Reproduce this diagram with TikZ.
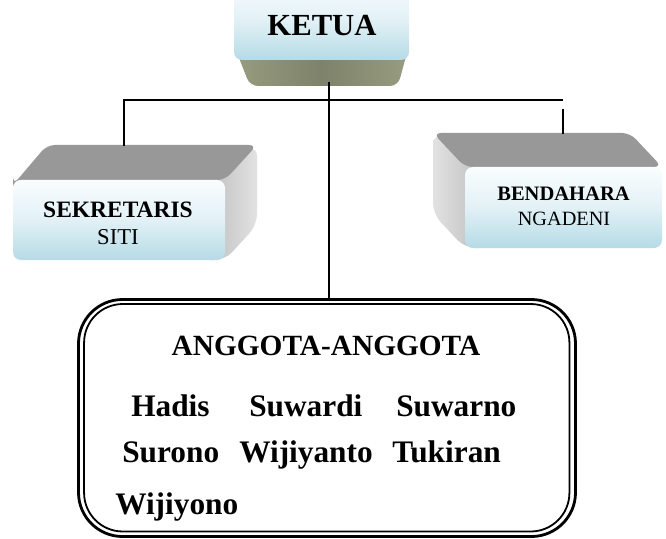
\documentclass[tikz,border=0pt]{standalone}
\usepackage{fontspec}
\setmainfont{Liberation Serif}
\definecolor{faceTop}{RGB}{250,253,254}
\definecolor{faceMid}{RGB}{226,241,246}
\definecolor{faceBot}{RGB}{181,219,230}
\definecolor{topGray}{RGB}{152,152,152}
\definecolor{sideLight}{RGB}{226,226,226}
\definecolor{sideDark}{RGB}{185,185,185}
\definecolor{bevelOlive}{RGB}{126,130,106}
\definecolor{bevelLight}{RGB}{152,156,128}
\begin{document}
\begin{tikzpicture}[x=0.75pt,y=-0.75pt,
  frontface/.style={top color=faceTop, bottom color=faceBot, middle color=faceMid, rounded corners=6pt},
  topface/.style={fill=topGray, rounded corners=6pt},
  conn/.style={draw=black, line width=1.2pt},
  boldlbl/.style={font=\bfseries\fontsize{#1}{#1}\selectfont, anchor=base, inner sep=0pt},
  plainlbl/.style={font=\fontsize{#1}{#1}\selectfont, anchor=base, inner sep=0pt},
  member/.style={font=\bfseries\fontsize{23.5}{24}\selectfont, anchor=base west, inner sep=0pt}]
\useasboundingbox (0,0) rectangle (666,538);
\begin{scope}
\clip (0,0) rectangle (666,538);
% ---- KETUA block
\shade[left color=bevelLight, right color=bevelLight, middle color=bevelOlive, rounded corners=6pt]
  (234,45) -- (409,45) -- (398,86) -- (250,86) -- cycle;
\shade[frontface] (234,-20) rectangle (409,60);
\node[boldlbl=23] (ketua) at (322,36) {KETUA};
\coordinate (kb) at (329,82);
% ---- SEKRETARIS block
\shade[left color=sideDark, right color=sideLight, rounded corners=8pt]
  (200,180) -- (257,145) -- (257,225) -- (225,260) -- (200,260) -- cycle;
\path[topface] (13,185) -- (47,145) -- (257,145) -- (225,180) -- (13,180) -- cycle;
\shade[frontface] (13,180) rectangle (225,260);
\node[boldlbl=17.6] (sek) at (118,217) {SEKRETARIS};
\node[plainlbl=17] (siti) at (118,244) {SITI};
\coordinate (st) at (124,146);
% ---- BENDAHARA block
\shade[left color=sideLight, right color=sideDark, rounded corners=8pt]
  (490,167) -- (433,133) -- (433,214) -- (465,248) -- (490,248) -- cycle;
\path[topface] (465,167) -- (433,133) -- (630,133) -- (662,167) -- cycle;
\shade[frontface] (465,167) rectangle (662,248);
\node[boldlbl=15.4] (ben) at (563.5,200) {BENDAHARA};
\node[plainlbl=15.2] (ngadeni) at (564,225) {NGADENI};
\coordinate (bt) at (563,134);
\coordinate (bg) at (563,109);
\coordinate (hr) at (563,100);
% ---- ANGGOTA box (double border: thick outer, thinner inner)
\node[draw, line width=2.1pt, rounded corners=33pt,
  minimum width=372.75pt, minimum height=177.75pt, inner sep=0pt] (ang) at (327,418) {};
\node[draw, line width=1.35pt, rounded corners=29pt,
  minimum width=364pt, minimum height=170.6pt, inner sep=0pt] (anginner) at (326.75,417.75) {};
\node[boldlbl=22] (hdr) at (326,355) {ANGGOTA-ANGGOTA};
\node[member] (m1) at (131,416) {Hadis};
\node[member] (m2) at (249,416) {Suwardi};
\node[member] (m3) at (396,416) {Suwarno};
\node[member] (m4) at (122,462) {Surono};
\node[member] (m5) at (239,462) {Wijiyanto};
\node[member] (m6) at (392,462) {Tukiran};
\node[member] (m7) at (115,514) {Wijiyono};
% ---- connectors
\draw[conn] (st) |- (hr);
\draw[conn] (bt) -- (bg);
\draw[conn] (kb) -- (kb |- ang.north);
\end{scope}
\end{tikzpicture}
\end{document}
